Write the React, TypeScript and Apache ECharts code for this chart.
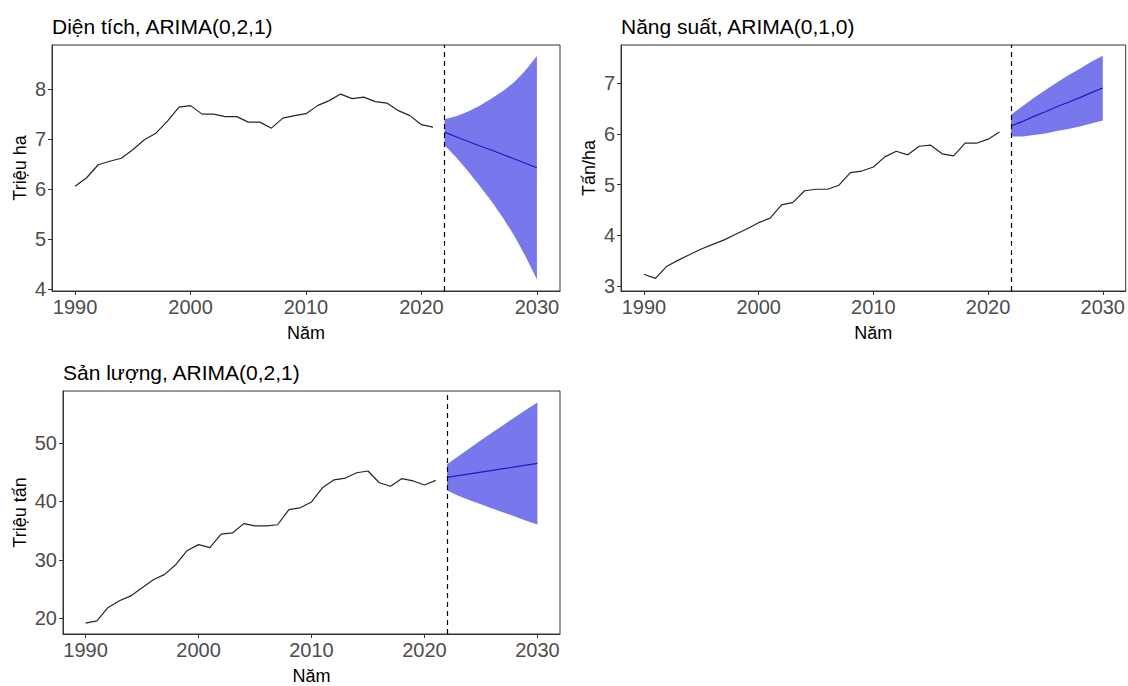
import React, { useEffect, useRef } from "react";
import * as echarts from "echarts";

// ---------- data ----------
const years = [1990, 1991, 1992, 1993, 1994, 1995, 1996, 1997, 1998, 1999, 2000, 2001, 2002, 2003, 2004, 2005, 2006, 2007, 2008, 2009, 2010, 2011, 2012, 2013, 2014, 2015, 2016, 2017, 2018, 2019, 2020, 2021];
const fcYears = [2022, 2023, 2024, 2025, 2026, 2027, 2028, 2029, 2030];
const xTicks = [1990, 2000, 2010, 2020, 2030];

// Diện tích (triệu ha)
const areaHist = [6.06, 6.23, 6.49, 6.56, 6.62, 6.79, 6.99, 7.12, 7.36, 7.64, 7.67, 7.5, 7.5, 7.45, 7.45, 7.34, 7.34, 7.22, 7.42, 7.47, 7.51, 7.67, 7.77, 7.9, 7.81, 7.84, 7.75, 7.72, 7.57, 7.47, 7.29, 7.24];
const areaMean = [7.14, 7.05, 6.96, 6.87, 6.79, 6.7, 6.61, 6.52, 6.43];
const areaHi = [7.4, 7.46, 7.55, 7.66, 7.8, 7.95, 8.13, 8.37, 8.66];
const areaLo = [6.88, 6.64, 6.37, 6.08, 5.78, 5.45, 5.09, 4.67, 4.2];
const areaYTicks = [4, 5, 6, 7, 8];

// Năng suất (tấn/ha)
const yieldHist = [3.23, 3.15, 3.39, 3.51, 3.62, 3.73, 3.82, 3.91, 4.02, 4.13, 4.25, 4.34, 4.6, 4.65, 4.88, 4.91, 4.91, 4.99, 5.24, 5.27, 5.35, 5.55, 5.66, 5.59, 5.76, 5.78, 5.61, 5.57, 5.82, 5.82, 5.9, 6.04];
const yieldMean = [6.16, 6.25, 6.35, 6.44, 6.54, 6.63, 6.72, 6.82, 6.91];
const yieldHi = [6.38, 6.55, 6.72, 6.87, 7.02, 7.16, 7.29, 7.43, 7.55];
const yieldLo = [5.95, 5.95, 5.98, 6.01, 6.06, 6.1, 6.15, 6.21, 6.27];
const yieldYTicks = [3, 4, 5, 6, 7];

// Sản lượng (triệu tấn)
const prodHist = [19.16, 19.55, 21.85, 22.98, 23.82, 25.2, 26.6, 27.5, 29.2, 31.6, 32.6, 32.1, 34.4, 34.6, 36.2, 35.8, 35.8, 36.0, 38.6, 38.9, 39.9, 42.4, 43.7, 44.0, 44.9, 45.2, 43.2, 42.6, 43.9, 43.5, 42.8, 43.6];
const prodMean = [44.1, 44.4, 44.7, 45.0, 45.3, 45.6, 45.9, 46.2, 46.5];
const prodHi = [46.35, 47.75, 49.1, 50.45, 51.8, 53.1, 54.4, 55.7, 56.95];
const prodLo = [41.85, 40.95, 40.2, 39.5, 38.8, 38.1, 37.4, 36.7, 36.05];
const prodYTicks = [20, 30, 40, 50];

const titles = ["Diện tích, ARIMA(0,2,1)", "Năng suất, ARIMA(0,1,0)", "Sản lượng, ARIMA(0,2,1)"];
const yNames = ["Triệu ha", "Tấn/ha", "Triệu tấn"];
const xName = "Năm";
const forecastStart = 2022;

const FONT = "'Liberation Sans', Arial, sans-serif";

export default function App() {
  const ref = useRef<HTMLDivElement>(null);
  useEffect(() => {
    if (!ref.current) return;
    const chart = echarts.init(ref.current, null, { renderer: "svg" });

    const panels = [
      { hist: areaHist, mean: areaMean, hi: areaHi, lo: areaLo, yTicks: areaYTicks, ymin: 3.97, ymax: 8.88, grid: { left: 52, top: 45, width: 508, height: 246 }, nameGap: 23, titlePos: { left: 52, top: 16 } },
      { hist: yieldHist, mean: yieldMean, hi: yieldHi, lo: yieldLo, yTicks: yieldYTicks, ymin: 2.9, ymax: 7.76, grid: { left: 621, top: 45, width: 506, height: 246 }, nameGap: 23, titlePos: { left: 621, top: 16 } },
      { hist: prodHist, mean: prodMean, hi: prodHi, lo: prodLo, yTicks: prodYTicks, ymin: 17.3, ymax: 58.9, grid: { left: 63, top: 391, width: 497, height: 247 }, nameGap: 34, titlePos: { left: 63, top: 362 } },
    ];

    const grids: any[] = [];
    const xAxes: any[] = [];
    const yAxes: any[] = [];
    const series: any[] = [];
    const title: any[] = [];

    panels.forEach((p, i) => {
      grids.push({ ...p.grid, show: true, borderColor: "#333", borderWidth: 1, backgroundColor: "#fff", containLabel: false });
      title.push({
        text: titles[i],
        left: p.titlePos.left,
        top: p.titlePos.top,
        padding: 0,
        textStyle: { fontFamily: FONT, fontSize: 21, fontWeight: "normal", color: "#000" },
      });
      xAxes.push({
        type: "value",
        gridIndex: i,
        min: 1988,
        max: 2032,
        axisLine: { show: true, onZero: false, lineStyle: { color: "#333", width: 1 } },
        axisTick: { show: true, customValues: xTicks, length: 4, lineStyle: { color: "#333" } },
        axisLabel: { customValues: xTicks, formatter: (v: number) => String(v), color: "#4d4d4d", fontSize: 20, fontFamily: FONT, margin: 6 },
        splitLine: { show: false },
        name: xName,
        nameLocation: "middle",
        nameGap: 33,
        nameTextStyle: { color: "#000", fontSize: 18, fontFamily: FONT },
      });
      yAxes.push({
        type: "value",
        gridIndex: i,
        min: p.ymin,
        max: p.ymax,
        axisLine: { show: true, onZero: false, lineStyle: { color: "#333", width: 1 } },
        axisTick: { show: true, customValues: p.yTicks, length: 4, lineStyle: { color: "#333" } },
        axisLabel: { customValues: p.yTicks, formatter: (v: number) => String(v), color: "#4d4d4d", fontSize: 20, fontFamily: FONT, margin: 6 },
        splitLine: { show: false },
        name: yNames[i],
        nameLocation: "middle",
        nameGap: p.nameGap,
        nameRotate: 90,
        nameTextStyle: { color: "#000", fontSize: 18, fontFamily: FONT },
      });

      series.push({
        type: "line",
        xAxisIndex: i,
        yAxisIndex: i,
        data: years.map((y, k) => [y, p.hist[k]]),
        symbol: "none",
        lineStyle: { color: "#262626", width: 1.2 },
        z: 3,
      });
      const bandData = fcYears.map((y, k) => [y, p.lo[k], p.hi[k]]);
      series.push({
        type: "custom",
        xAxisIndex: i,
        yAxisIndex: i,
        data: bandData,
        encode: { x: 0, y: [1, 2] },
        z: 2,
        silent: true,
        renderItem: (params: any, api: any) => {
          if (params.dataIndex !== 0) return null;
          const top = bandData.map((d) => api.coord([d[0], d[2]]));
          const bottom = bandData.map((d) => api.coord([d[0], d[1]])).reverse();
          return {
            type: "polygon",
            shape: { points: top.concat(bottom) },
            style: { fill: "#7878ec", stroke: "none" },
          };
        },
      });
      series.push({
        type: "line",
        xAxisIndex: i,
        yAxisIndex: i,
        data: fcYears.map((y, k) => [y, p.mean[k]]),
        symbol: "none",
        lineStyle: { color: "#1a1acc", width: 1.2 },
        z: 4,
        markLine: {
          silent: true,
          symbol: ["none", "none"],
          label: { show: false },
          lineStyle: { color: "#000", width: 1.2, type: [5, 4] },
          data: [{ xAxis: forecastStart }],
          z: 5,
        },
      });
    });

    chart.setOption({
      animation: false,
      backgroundColor: "#fff",
      title,
      grid: grids,
      xAxis: xAxes,
      yAxis: yAxes,
      series,
    });
    return () => chart.dispose();
  }, []);

  return <div ref={ref} style={{ position: "fixed", left: 0, top: 0, width: 1128, height: 686 }} />;
}
